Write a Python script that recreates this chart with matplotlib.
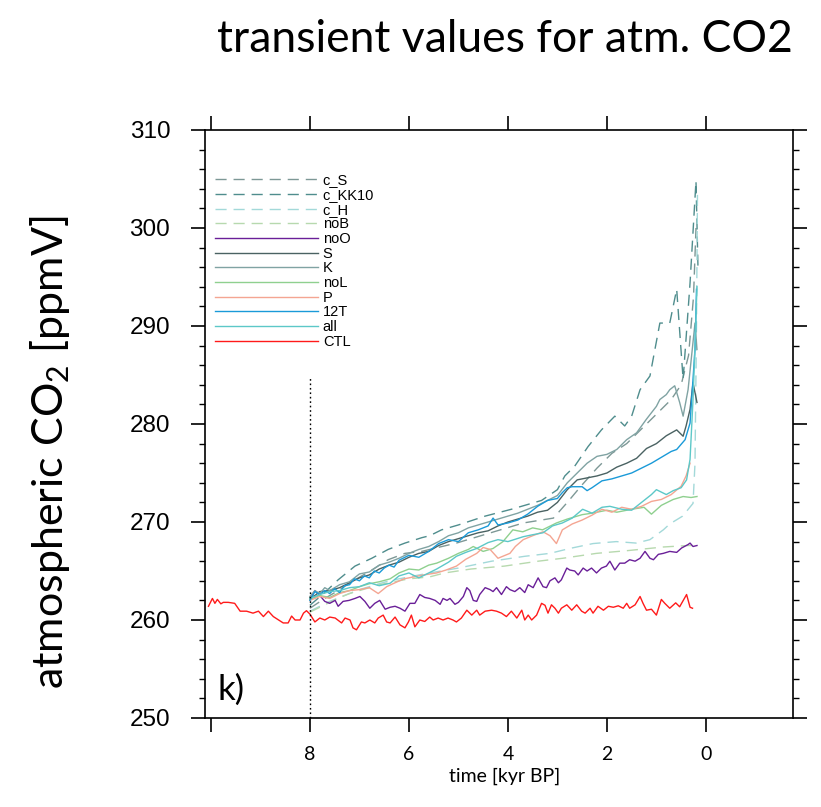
import matplotlib
matplotlib.use("Agg")
import matplotlib.pyplot as plt

plt.rcParams['lines.scale_dashes'] = False
plt.rcParams['mathtext.fontset'] = 'custom'
plt.rcParams['mathtext.rm'] = 'Lato'
plt.rcParams['mathtext.it'] = 'Lato'

# ---------------- data (time in kyr BP, CO2 in ppmV) ----------------
t_ctl = [10.05, 9.97, 9.92, 9.87, 9.80, 9.75, 9.65, 9.52, 9.41, 9.28, 9.15, 9.04, 8.94, 8.84, 8.74,
         8.54, 8.44, 8.37, 8.30, 8.20, 8.13, 8.07, 8.0, 7.90, 7.80, 7.70, 7.60, 7.49, 7.36, 7.29,
         7.19, 7.13, 7.06, 6.96, 6.89, 6.79, 6.69, 6.62, 6.52, 6.45, 6.38, 6.28, 6.18, 6.08, 6.01,
         5.95, 5.88, 5.78, 5.68, 5.58, 5.51, 5.41, 5.31, 5.21, 5.11, 5.04, 4.94, 4.83, 4.73, 4.63,
         4.57, 4.46, 4.33, 4.23, 4.13, 4.03, 3.93, 3.82, 3.72, 3.66, 3.59, 3.52, 3.42, 3.32, 3.25,
         3.19, 3.12, 3.05, 2.98, 2.92, 2.81, 2.71, 2.61, 2.51, 2.44, 2.34, 2.28, 2.18, 2.07, 1.97,
         1.87, 1.77, 1.67, 1.60, 1.54, 1.43, 1.33, 1.27, 1.20, 1.10, 1.00, 0.90, 0.83, 0.73, 0.61,
         0.53, 0.39, 0.32, 0.27]
co2_ctl = [261.4, 262.2, 261.7, 262.1, 261.65, 261.8, 261.8, 261.7, 260.9, 260.9, 260.7, 260.9, 260.35, 260.9, 260.35,
           259.7, 259.7, 260.4, 260.0, 260.0, 260.7, 260.95, 260.6, 259.8, 260.2, 260.0, 260.3, 260.2, 259.7, 260.2,
           260.0, 259.2, 259.0, 259.8, 259.7, 260.0, 259.7, 260.2, 260.5, 259.8, 259.7, 260.3, 259.5, 259.2, 259.8,
           260.5, 259.3, 260.0, 259.85, 260.3, 260.0, 260.2, 260.0, 260.2, 260.0, 259.8, 260.2, 261.0, 260.5, 261.0,
           260.5, 260.9, 261.0, 260.9, 260.7, 260.35, 260.9, 260.2, 261.0, 260.0, 260.5, 260.0, 260.5, 261.7, 261.5,
           260.7, 261.55, 261.2, 260.7, 261.2, 261.55, 261.0, 261.55, 260.9, 260.7, 261.2, 260.7, 261.4, 261.0, 261.4,
           261.3, 261.45, 261.2, 261.7, 261.2, 261.55, 262.4, 261.7, 261.0, 261.1, 260.5, 262.1, 261.7, 261.2, 261.75,
           261.35, 262.6, 261.3, 261.2]

t_noO = [8.0, 7.90, 7.80, 7.70, 7.60, 7.49, 7.43, 7.33, 7.21, 7.09, 6.99, 6.89, 6.79, 6.69, 6.59,
         6.48, 6.38, 6.28, 6.18, 6.08, 5.98, 5.88, 5.78, 5.68, 5.58, 5.47, 5.37, 5.31, 5.23, 5.17,
         5.07, 5.00, 4.90, 4.83, 4.77, 4.70, 4.63, 4.57, 4.46, 4.36, 4.30, 4.23, 4.13, 4.03, 3.96,
         3.86, 3.76, 3.66, 3.59, 3.49, 3.39, 3.29, 3.22, 3.15, 3.05, 2.98, 2.92, 2.81, 2.75, 2.65,
         2.58, 2.48, 2.40, 2.31, 2.21, 2.11, 2.01, 1.94, 1.84, 1.74, 1.64, 1.54, 1.43, 1.33, 1.23,
         1.13, 1.06, 0.96, 0.86, 0.73, 0.59, 0.49, 0.36, 0.32, 0.26, 0.18]
co2_noO = [262.1, 263.0, 262.5, 261.9, 261.7, 262.0, 261.4, 261.9, 262.0, 262.2, 262.4, 261.9, 261.2, 261.7, 262.0,
           261.1, 261.3, 261.4, 261.2, 260.9, 261.7, 261.7, 262.6, 262.3, 262.2, 262.0, 261.6, 262.2, 262.0, 262.2,
           261.6, 261.8, 262.4, 263.3, 263.0, 262.0, 261.9, 262.6, 263.3, 263.1, 262.9, 263.3, 262.6, 263.4, 263.1,
           262.9, 263.3, 262.8, 263.6, 263.3, 264.3, 263.4, 263.3, 264.0, 264.3, 263.8, 264.1, 265.3, 265.1, 265.0,
           264.6, 265.3, 265.0, 265.3, 264.8, 265.3, 265.5, 266.0, 265.1, 265.8, 265.8, 266.15, 266.0, 266.3, 267.0,
           266.3, 266.15, 266.7, 266.8, 267.0, 266.9, 267.35, 267.7, 267.85, 267.5, 267.6]

t_12T = [8.0, 7.9, 7.8, 7.7, 7.6, 7.5, 7.4, 7.3, 7.2, 7.1, 7.0, 6.9, 6.8, 6.7, 6.6, 6.5, 6.4, 6.3, 6.2,
         6.0, 5.8, 5.6, 5.4, 5.2, 5.0, 4.8, 4.6, 4.4, 4.3, 4.2, 4.0, 3.8, 3.6, 3.4, 3.2, 3.0, 2.9, 2.8,
         2.7, 2.5, 2.4, 2.3, 2.1, 1.9, 1.7, 1.5, 1.3, 1.1, 0.9, 0.7, 0.59, 0.42, 0.32, 0.22, 0.19]
co2_12T = [262.0, 262.9, 262.6, 263.0, 262.7, 263.2, 262.8, 263.5, 263.6, 264.2, 264.0, 264.5, 264.3, 265.0, 264.8,
           265.3, 265.6, 265.4, 266.1, 266.6, 266.4, 267.0, 267.8, 268.2, 268.0, 268.9, 269.2, 269.6, 270.4, 269.7,
           269.9, 270.2, 270.8, 271.6, 272.2, 272.4, 273.0, 273.5, 273.6, 273.6, 273.2, 273.5, 274.2, 274.4, 274.7,
           275.0, 275.5, 276.0, 276.6, 277.2, 277.4, 278.4, 280.1, 287.6, 293.75]

t_S = [8.0, 7.9, 7.8, 7.6, 7.4, 7.2, 7.0, 6.8, 6.6, 6.4, 6.2, 6.0, 5.8, 5.6, 5.4, 5.2, 5.0, 4.8, 4.6,
       4.4, 4.2, 4.0, 3.8, 3.6, 3.4, 3.2, 3.0, 2.8, 2.6, 2.4, 2.2, 2.0, 1.8, 1.6, 1.4, 1.2, 1.0, 0.8,
       0.59, 0.46, 0.4, 0.32, 0.26, 0.18]
co2_S = [262.3, 262.5, 262.9, 263.0, 263.3, 263.8, 264.3, 264.6, 265.2, 265.6, 265.9, 266.4, 266.8, 267.0,
         267.6, 268.0, 268.3, 268.6, 268.9, 269.1, 269.6, 270.0, 270.3, 270.6, 271.0, 271.2, 272.0, 273.3,
         274.3, 274.5, 274.7, 275.0, 275.6, 276.0, 276.5, 277.5, 278.0, 278.8, 279.4, 278.75, 279.8, 281.5,
         284.2, 282.2]

t_K = [8.0, 7.9, 7.8, 7.7, 7.6, 7.4, 7.2, 7.0, 6.8, 6.6, 6.4, 6.2, 6.0, 5.8, 5.6, 5.4, 5.2, 5.0, 4.8,
       4.6, 4.4, 4.2, 4.0, 3.8, 3.6, 3.4, 3.2, 3.0, 2.8, 2.6, 2.4, 2.2, 2.0, 1.8, 1.6, 1.4, 1.2, 1.0,
       0.93, 0.8, 0.73, 0.63, 0.53, 0.46, 0.36, 0.22, 0.18]
co2_K = [262.4, 263.0, 262.7, 263.3, 263.0, 263.6, 263.9, 264.7, 264.9, 265.6, 265.9, 266.3, 266.8, 267.2,
         267.5, 268.0, 268.6, 268.9, 269.4, 269.7, 270.0, 270.3, 270.6, 270.9, 271.3, 271.7, 272.2, 272.7,
         274.0, 275.0, 276.0, 276.7, 276.9, 277.4, 278.4, 279.1, 280.5, 281.8, 282.5, 283.0, 283.5, 283.9,
         282.2, 280.8, 283.5, 290.3, 287.6]

t_P = [8.0, 7.8, 7.6, 7.4, 7.2, 7.0, 6.8, 6.62, 6.45, 6.28, 6.1, 5.9, 5.7, 5.44, 5.25, 5.04, 4.85,
       4.63, 4.5, 4.36, 4.2, 3.96, 3.85, 3.69, 3.5, 3.29, 3.15, 3.02, 2.9, 2.7, 2.5, 2.3, 2.1, 1.9,
       1.7, 1.5, 1.3, 1.1, 0.9, 0.7, 0.5, 0.4, 0.32]
co2_P = [262.0, 262.4, 262.2, 262.7, 263.0, 263.1, 263.3, 262.7, 263.4, 263.8, 264.2, 264.4, 264.6, 264.8,
         265.1, 265.5, 266.2, 266.8, 267.4, 267.2, 266.3, 266.8, 267.5, 268.2, 268.6, 269.0, 268.6, 267.8,
         269.2, 269.8, 270.2, 270.7, 271.3, 271.0, 271.5, 271.3, 271.6, 272.1, 272.3, 272.8, 273.65, 274.7,
         276.0]

t_noL = [8.0, 7.8, 7.6, 7.4, 7.2, 7.0, 6.8, 6.6, 6.38, 6.2, 6.0, 5.8, 5.6, 5.44, 5.2, 5.0, 4.8, 4.7,
         4.5, 4.3, 4.1, 3.9, 3.7, 3.5, 3.3, 3.02, 2.8, 2.5, 2.3, 2.0, 1.8, 1.5, 1.25, 1.1, 0.9, 0.66,
         0.46, 0.3, 0.18]
co2_noL = [262.1, 262.5, 262.3, 262.8, 263.0, 263.4, 263.7, 263.9, 264.2, 264.8, 265.2, 265.1, 265.6, 265.8,
           266.3, 266.8, 267.2, 267.5, 267.0, 267.3, 268.0, 269.2, 269.0, 269.4, 269.2, 269.9, 270.3, 270.75,
           270.9, 271.2, 271.0, 271.3, 271.5, 270.8, 271.7, 272.3, 272.6, 272.5, 272.6]

t_all = [8.0, 7.8, 7.6, 7.4, 7.2, 7.0, 6.8, 6.6, 6.38, 6.2, 6.0, 5.8, 5.6, 5.44, 5.2, 5.04, 4.85, 4.63,
         4.4, 4.2, 4.0, 3.69, 3.5, 3.29, 3.1, 2.9, 2.7, 2.49, 2.3, 2.1, 1.94, 1.7, 1.5, 1.3, 1.1, 1.0,
         0.8, 0.66, 0.5, 0.39, 0.32, 0.26, 0.22, 0.18]
co2_all = [262.2, 262.6, 262.9, 263.0, 263.3, 263.4, 263.8, 263.5, 263.75, 264.5, 264.8, 264.3, 264.8, 265.2,
           265.9, 266.5, 266.9, 267.3, 267.9, 268.2, 268.0, 268.5, 268.7, 268.9, 269.6, 269.9, 270.4, 271.3,
           270.9, 271.5, 271.6, 271.3, 271.2, 272.0, 272.8, 273.3, 272.8, 273.2, 273.5, 274.3, 276.4, 282.5,
           288.0, 294.0]

t_cH = [8.0, 7.8, 7.6, 7.4, 7.2, 7.0, 6.8, 6.6, 6.4, 6.2, 6.0, 5.58, 5.0, 4.33, 3.66, 3.15, 2.75, 2.28,
        1.81, 1.41, 1.13, 0.86, 0.73, 0.47, 0.26, 0.22, 0.19, 0.17]
co2_cH = [260.9, 261.4, 261.9, 262.3, 262.7, 263.1, 263.4, 263.7, 264.0, 264.2, 264.4, 264.8, 265.3, 266.0,
          266.5, 266.8, 267.3, 267.8, 268.0, 267.85, 268.2, 269.2, 269.8, 270.6, 271.9, 276.0, 290.0, 303.5]

t_noB = [8.0, 7.8, 7.6, 7.4, 7.2, 7.0, 6.8, 6.6, 6.4, 6.2, 6.0, 5.58, 5.28, 4.75, 4.07, 3.39, 2.89,
         2.21, 1.54, 0.86, 0.36, 0.18]
co2_noB = [260.8, 261.3, 261.8, 262.3, 262.7, 263.0, 263.3, 263.6, 263.8, 264.0, 264.2, 264.4, 264.8, 265.2,
           265.5, 266.0, 266.3, 266.8, 267.1, 267.45, 267.6, 267.6]

t_cKK10 = [8.0, 7.7, 7.43, 7.09, 6.75, 6.42, 6.08, 5.74, 5.58, 5.34, 5.0, 4.46, 3.93, 3.32, 3.0, 2.85,
           2.65, 2.38, 2.11, 1.84, 1.64, 1.50, 1.33, 1.13, 0.93, 0.73, 0.59, 0.46, 0.32, 0.20, 0.16]
co2_cKK10 = [261.5, 262.8, 264.1, 265.5, 266.3, 267.2, 267.85, 268.4, 268.6, 269.2, 269.7, 270.6, 271.3,
             272.2, 273.3, 274.7, 275.7, 277.7, 279.4, 280.8, 279.8, 280.8, 283.5, 284.9, 290.3, 290.3,
             293.75, 284.55, 294.4, 304.8, 296.0]

t_cS = [8.0, 7.7, 7.43, 7.09, 6.75, 6.42, 6.08, 5.74, 5.58, 5.04, 3.69, 3.08, 2.8, 2.5, 2.2, 1.9, 1.6,
        1.3, 1.0, 0.7, 0.5, 0.35, 0.25, 0.2]
co2_cS = [261.2, 262.2, 263.0, 264.1, 265.1, 266.15, 266.8, 267.0, 267.2, 267.85, 269.9, 270.4, 272.0,
          273.8, 275.5, 277.0, 278.0, 279.5, 281.0, 282.5, 284.0, 287.0, 293.0, 300.0]

series_names = ['c_S', 'c_KK10', 'c_H', 'noB', 'noO', 'S', 'K', 'noL', 'P', '12T', 'all', 'CTL']
series_t = [t_cS, t_cKK10, t_cH, t_noB, t_noO, t_S, t_K, t_noL, t_P, t_12T, t_all, t_ctl]
series_v = [co2_cS, co2_cKK10, co2_cH, co2_noB, co2_noO, co2_S, co2_K, co2_noL, co2_P, co2_12T, co2_all, co2_ctl]
series_colors = ['#7d9896', '#4f8d8d', '#a3d9d9', '#b7d9ae', '#6a1f98', '#4a6262', '#80a3a3',
                 '#8fd08f', '#f4a592', '#1a9ad8', '#5cc8c8', '#ff1a1a']
series_dashed = [True, True, True, True, False, False, False, False, False, False, False, False]

xticks = [10, 8, 6, 4, 2, 0]
xticklabels = ['', '8', '6', '4', '2', '0']
yticks = [250, 260, 270, 280, 290, 300, 310]

# ---------------- figure ----------------
fig = plt.figure(figsize=(8.21, 8.07), dpi=100)
ax = fig.add_axes([205/821, 1-718/807, 588/821, 588/807])

for name, tt, vv, col, dsh in zip(series_names, series_t, series_v, series_colors, series_dashed):
    if dsh:
        ax.plot(tt, vv, color=col, lw=1.0, dashes=(8, 5), label=name)
    else:
        ax.plot(tt, vv, color=col, lw=1.0, label=name)

ax.plot([8, 8], [250, 284.9], color='black', lw=1.0, linestyle=(0, (1.2, 2.0)))

ax.set_xlim(10.12, -1.76)
ax.set_ylim(250, 310)
ax.set_xticks(xticks)
ax.set_xticklabels(xticklabels, fontfamily='Lato', fontsize=14)
ax.set_yticks(yticks)
ax.set_yticks(range(250, 311, 2), minor=True)
for lab in ax.get_yticklabels():
    lab.set_fontfamily('Liberation Sans')
    lab.set_fontsize(17.5)
ax.tick_params(axis='x', which='major', direction='out', length=10, width=1.2,
               top=True, bottom=True, pad=10)
ax.tick_params(axis='y', which='major', direction='out', length=10, width=1.2,
               left=True, right=True, pad=15)
ax.tick_params(axis='y', which='minor', direction='out', length=4, width=1.0,
               left=True, right=True)
ax.tick_params(axis='x', which='minor', bottom=False, top=False)
for sp in ax.spines.values():
    sp.set_linewidth(1.2)

leg = ax.legend(loc='upper left', bbox_to_anchor=(0.017, 0.926), frameon=False,
                prop={'family': 'Liberation Sans', 'size': 10.5},
                handlelength=7.05, handletextpad=0.34, labelspacing=0.045,
                borderpad=0, borderaxespad=0)

ax.text(0.022, 0.048, 'k)', transform=ax.transAxes, fontsize=25, fontfamily='Lato',
        ha='left', va='center')

fig.text(505/821, 1-40/807, 'transient values for atm. CO2', ha='center', va='center',
         fontsize=32, fontfamily='Lato')
fig.text(50/821, 1-452/807, 'atmospheric CO$_{2}$ [ppmV]', rotation=90, ha='center', va='center',
         fontsize=31, fontfamily='Lato')
fig.text(505/821, 1-776/807, 'time [kyr BP]', ha='center', va='center', fontsize=14, fontfamily='Lato')

fig.savefig('out.png', dpi=100)
